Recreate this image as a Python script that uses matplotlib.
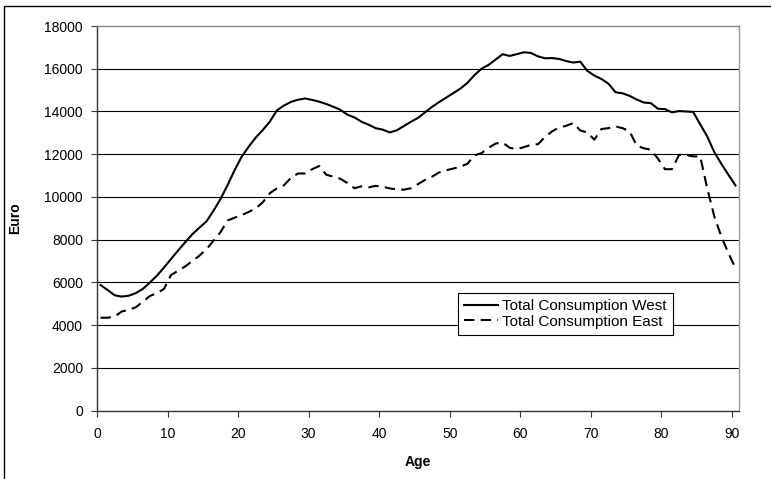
import numpy as np
import matplotlib
matplotlib.use("Agg")
import matplotlib.pyplot as plt
from matplotlib.patches import Rectangle

plt.rcParams['font.family'] = ['Liberation Sans', 'DejaVu Sans']

# ages 0..90
ages = np.arange(91)

west = [5880, 5650, 5400, 5340, 5380, 5500, 5700, 6000, 6320, 6700,
        7100, 7500, 7880, 8250, 8560, 8850, 9350, 9900, 10550, 11250,
        11880, 12350, 12780, 13130, 13530, 14050, 14280, 14450, 14550, 14610,
        14540, 14460, 14350, 14220, 14080, 13850, 13720, 13520, 13380, 13220,
        13150, 13020, 13120, 13320, 13520, 13700, 13960, 14220, 14440, 14650,
        14860, 15070, 15340, 15700, 16000, 16180, 16430, 16680, 16600, 16680,
        16770, 16740, 16580, 16490, 16500, 16460, 16360, 16290, 16330, 15900,
        15680, 15520, 15300, 14900, 14850, 14730, 14560, 14420, 14390, 14130,
        14110, 13960, 14020, 14000, 13980, 13400, 12830, 12100, 11550, 11040,
        10540]

east = [4350, 4350, 4400, 4640, 4720, 4840, 5100, 5370, 5500, 5700,
        6350, 6550, 6750, 7000, 7250, 7550, 7950, 8350, 8900, 9030,
        9150, 9300, 9470, 9750, 10180, 10400, 10550, 10900, 11100, 11100,
        11300, 11450, 11040, 10950, 10850, 10650, 10410, 10500, 10450, 10520,
        10480, 10400, 10360, 10340, 10410, 10600, 10800, 10950, 11150, 11250,
        11330, 11420, 11550, 11950, 12050, 12300, 12500, 12550, 12300, 12240,
        12330, 12440, 12470, 12800, 13070, 13250, 13330, 13460, 13110, 13020,
        12680, 13180, 13220, 13300, 13220, 13070, 12400, 12280, 12210, 11800,
        11300, 11300, 11970, 11970, 11900, 11900, 10400, 9090, 8150, 7370,
        6670]

x_ticks = [0, 10, 20, 30, 40, 50, 60, 70, 80, 90]
y_ticks = np.arange(0, 18001, 2000)

fig = plt.figure(figsize=(7.71, 4.79), dpi=100)
ax = fig.add_axes([97 / 771, 68.3 / 479, 642 / 771, 384.7 / 479])

# Excel-style category axis: points sit in the middle of each category
ax.plot(ages + 0.5, west, color='black', lw=1.5, label='Total Consumption West')
ax.plot(ages + 0.5, east, color='black', lw=1.5, ls=(0, (5, 3)),
        label='Total Consumption East')

ax.set_xlim(0, 91)
ax.set_ylim(0, 18000)
ax.set_xticks(x_ticks)
ax.set_yticks(y_ticks)
ax.tick_params(axis='both', labelsize=10, length=4, width=0.8,
               direction='out', color='#333333')
ax.tick_params(axis='y', pad=6)
ax.tick_params(axis='x', pad=8)

for y in y_ticks[1:-1]:
    ax.axhline(y, color='black', lw=0.8, zorder=0)

ax.spines['left'].set_color('#333333')
ax.spines['bottom'].set_color('#333333')
ax.spines['top'].set_color('#888888')
ax.spines['right'].set_color('#999999')
for s in ax.spines.values():
    s.set_linewidth(1.0)

ax.set_xlabel('Age', fontsize=10, fontweight='bold')
ax.set_ylabel('Euro', fontsize=10, fontweight='bold')
ax.xaxis.set_label_coords(0.5, -0.115)
ax.yaxis.set_label_coords(-0.117, 0.5)

leg = ax.legend(loc='upper left', bbox_to_anchor=(0.562, 0.306), fontsize=11,
                fancybox=False, framealpha=1, edgecolor='black',
                borderpad=0.4, handlelength=2.2, handletextpad=0.3,
                labelspacing=0.1, borderaxespad=0)
leg.get_frame().set_linewidth(0.8)

# outer chart-area border (cropped on right and bottom)
fig.patches.append(Rectangle((4 / 771, -0.1), 1.2, (479 - 6) / 479 + 0.1,
                             transform=fig.transFigure, fill=False,
                             edgecolor='black', lw=1.0))

fig.savefig('out.png', dpi=100)
